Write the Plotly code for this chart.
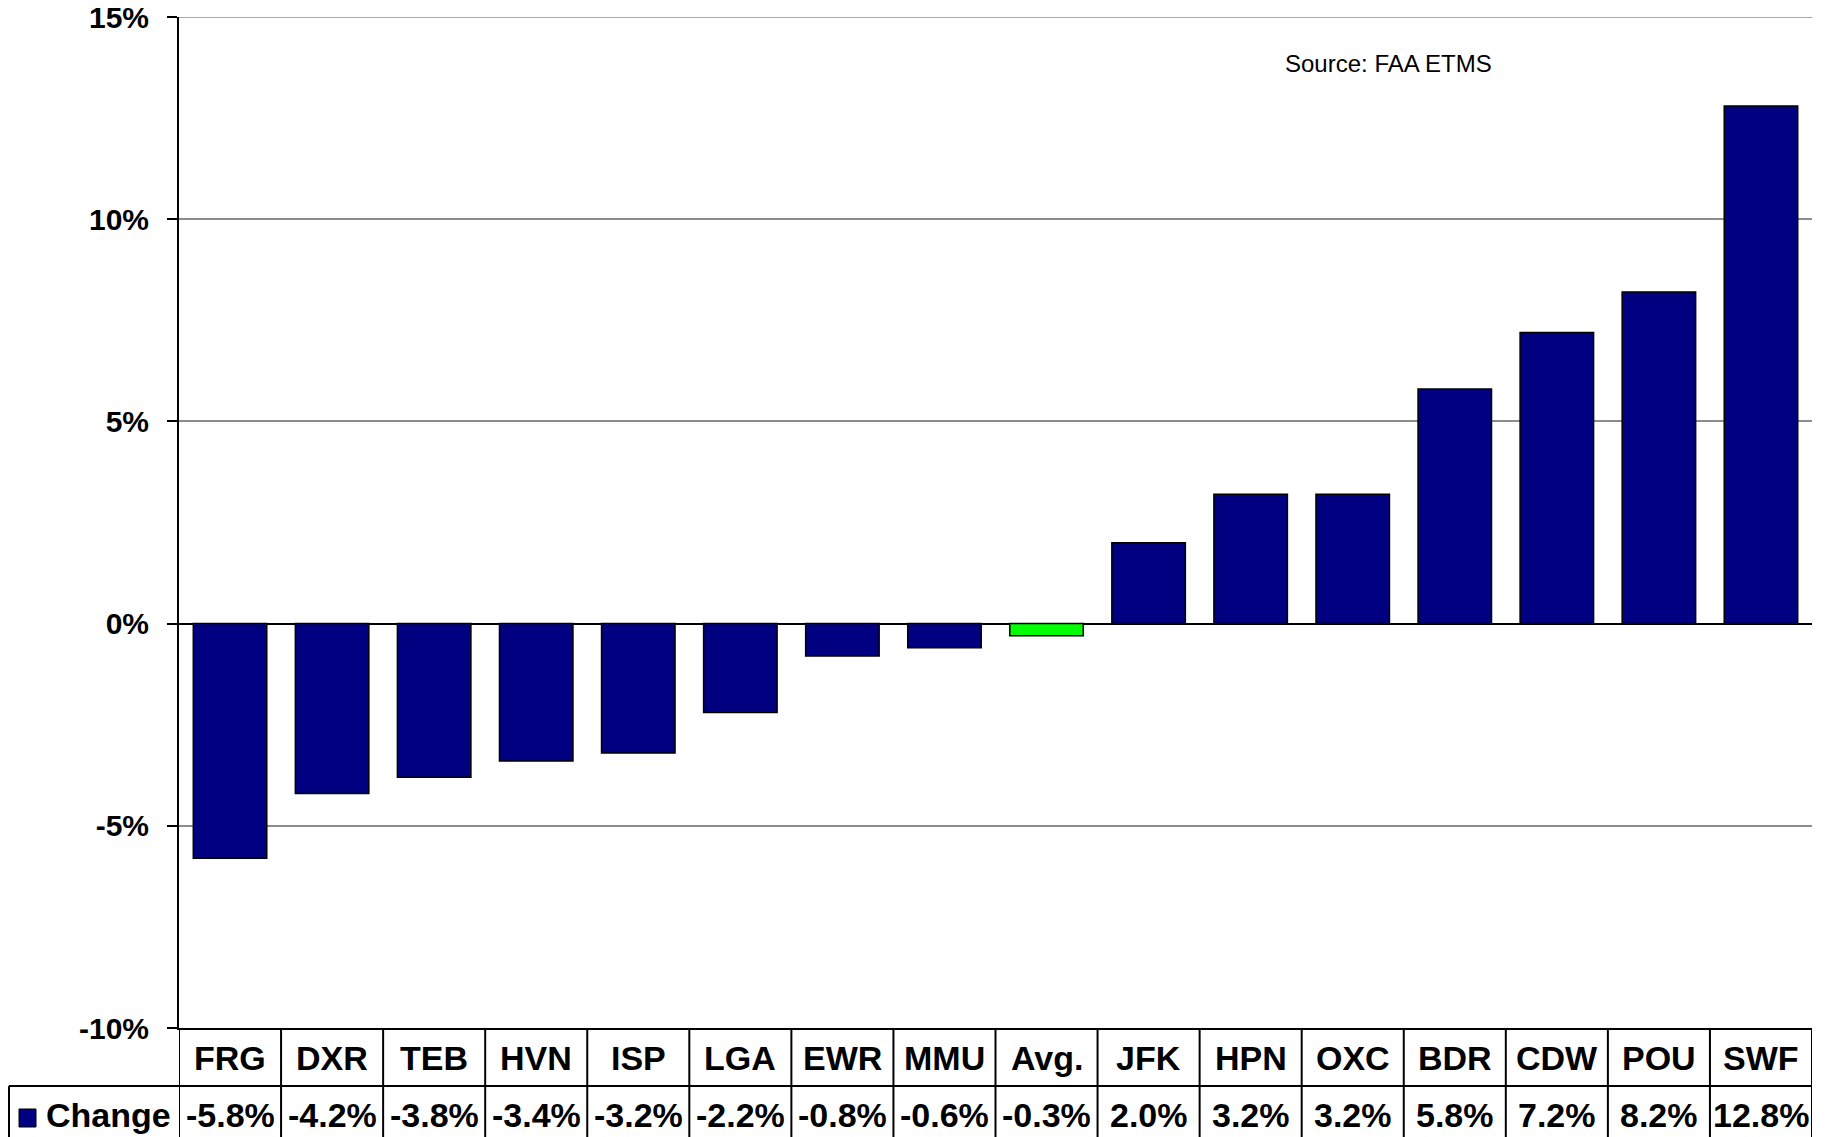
import plotly.graph_objects as go

categories = ["FRG", "DXR", "TEB", "HVN", "ISP", "LGA", "EWR", "MMU", "Avg.",
              "JFK", "HPN", "OXC", "BDR", "CDW", "POU", "SWF"]
change = [-5.8, -4.2, -3.8, -3.4, -3.2, -2.2, -0.8, -0.6, -0.3,
          2.0, 3.2, 3.2, 5.8, 7.2, 8.2, 12.8]
series_name = "Change"
source_text = "Source: FAA ETMS"
y_ticks = [-10, -5, 0, 5, 10, 15]

NAVY = "#000080"
GREEN = "#00FF00"
GRID = "#8c8c8c"
bar_colors = [GREEN if c == "Avg." else NAVY for c in categories]

OFF = 8  # default body margin of the page
W, H = 1830 - OFF, 1137 - OFF
# plot area in page pixels: x 179..1812, y 17..1028
ML, MT = 179 - OFF, 17 - OFF
MR = W - (1812 - OFF)
MB = H - (1028 - OFF)
plot_w = W - ML - MR
plot_h = H - MT - MB

def py(pix):
    # page pixel y -> paper y
    return ((1028) - pix) / plot_h

def px(pix):
    return (pix - 179) / plot_w

TABLE_FONT = dict(family="Liberation Sans", size=34, color="black", weight="bold")

fig = go.Figure()
fig.add_trace(go.Bar(
    x=categories, y=change, name=series_name,
    marker=dict(color=bar_colors, line=dict(color="black", width=1.5)),
    showlegend=False,
))

shapes = []
annotations = []

row1_top = py(1028)
row_mid = py(1086)
row2_bot = py(1160)
n = len(categories)

# top gridline (at the upper edge of the value range)
shapes.append(dict(type="line", xref="paper", yref="y", layer="below",
                   x0=0, x1=1, y0=max(y_ticks), y1=max(y_ticks),
                   line=dict(color=GRID, width=1.5)))

for i in range(n + 1):
    shapes.append(dict(type="line", xref="x", yref="paper",
                       x0=i - 0.5, x1=i - 0.5, y0=row1_top, y1=row2_bot,
                       line=dict(color="black", width=2)))
shapes.append(dict(type="line", xref="paper", yref="paper",
                   x0=px(9), x1=1.0, y0=row_mid, y1=row_mid,
                   line=dict(color="black", width=2)))
shapes.append(dict(type="line", xref="paper", yref="paper",
                   x0=px(9), x1=px(9), y0=row_mid, y1=row2_bot,
                   line=dict(color="black", width=2)))
shapes.append(dict(type="rect", xref="paper", yref="paper",
                   x0=px(19), x1=px(36), y0=py(1127), y1=py(1109),
                   fillcolor=NAVY, line=dict(color="black", width=1)))

for cat, val in zip(categories, change):
    annotations.append(dict(x=cat, xref="x", y=py(1058), yref="paper",
                            text=cat, showarrow=False, font=TABLE_FONT,
                            xanchor="center", yanchor="middle"))
    annotations.append(dict(x=cat, xref="x", y=py(1115), yref="paper",
                            text=f"{val:.1f}%", showarrow=False, font=TABLE_FONT,
                            xanchor="center", yanchor="middle"))

annotations.append(dict(x=px(44), xref="paper", y=py(1115), yref="paper",
                        text=series_name, showarrow=False, font=TABLE_FONT,
                        xanchor="left", yanchor="middle"))

annotations.append(dict(x=px(1388), xref="paper", y=py(64), yref="paper",
                        text=source_text, showarrow=False,
                        font=dict(family="Liberation Sans", size=24, color="black"),
                        xanchor="center", yanchor="middle"))

fig.update_layout(
    width=W, height=H,
    margin=dict(l=ML, r=MR, t=MT, b=MB, autoexpand=False),
    paper_bgcolor="white", plot_bgcolor="white",
    bargap=0.28,
    shapes=shapes, annotations=annotations,
    xaxis=dict(range=[-0.5, n - 0.5], showticklabels=False, ticks="",
               showgrid=False, showline=True, linecolor="black", linewidth=2,
               zeroline=False, fixedrange=True),
    yaxis=dict(range=[-10, 15], tickvals=y_ticks,
               ticktext=[f"{v}%" for v in y_ticks],
               tickfont=dict(family="Liberation Sans", size=30, color="black", weight="bold"),
               ticklabeloverflow="allow",
               ticks="outside", ticklen=10, tickcolor="black", tickwidth=2,
               ticklabelstandoff=12,
               showgrid=True, gridcolor=GRID, gridwidth=1.5,
               zeroline=True, zerolinecolor="black", zerolinewidth=2,
               showline=True, linecolor="black", linewidth=2, fixedrange=True),
)

fig.write_html("out.html")
